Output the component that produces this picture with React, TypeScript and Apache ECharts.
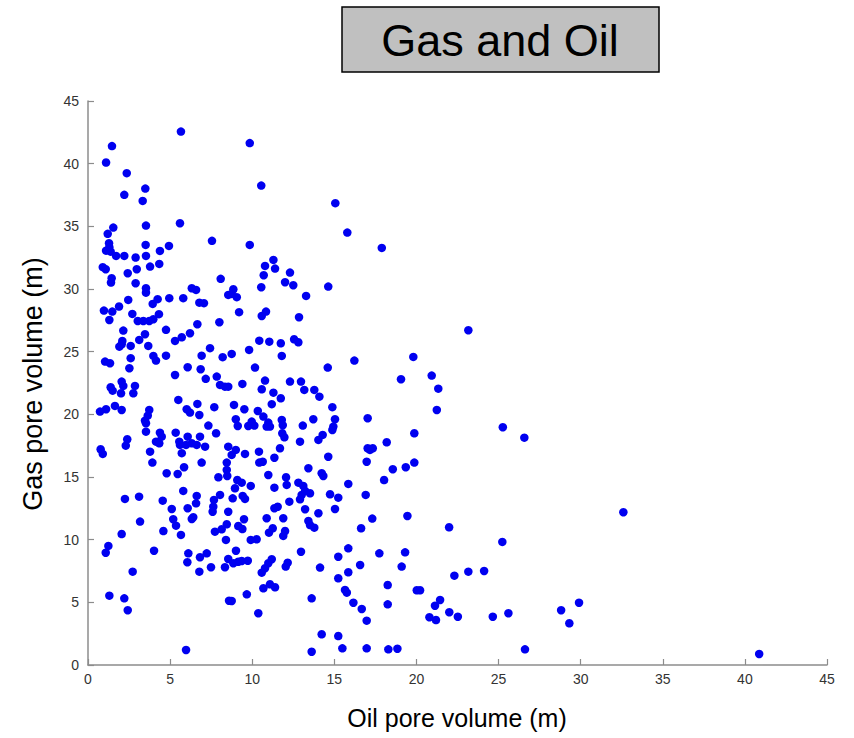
import React, { useEffect, useRef } from "react";
import * as echarts from "echarts";

const oilVolume: number[] = [
  5.66, 1.46, 1.10, 2.36, 3.49, 2.21, 3.33, 3.53, 5.60, 1.54, 1.20, 1.28, 1.30, 1.10, 1.38, 1.71, 2.21, 2.90, 3.51, 3.53,
  4.38, 4.93, 7.55, 3.78, 4.34, 2.97, 2.42, 0.90, 1.08, 1.44, 1.40, 2.90, 3.53, 8.08, 6.32, 6.58, 3.53, 8.54, 4.95, 5.80,
  4.24, 3.94, 2.45, 6.78, 7.06, 1.89, 0.97, 1.48, 1.30, 2.70, 4.32, 3.98, 3.03, 3.37, 3.73, 8.00, 6.66, 2.15, 4.75, 3.47,
  3.12, 2.09, 6.21, 5.71, 5.30, 1.91, 2.05, 2.60, 3.67, 7.43, 4.75, 3.98, 4.14, 6.92, 8.20, 1.04, 1.34, 2.60, 2.52, 6.07,
  6.86, 5.30, 7.17, 7.84, 8.04, 8.34, 8.54, 2.05, 2.15, 1.38, 1.50, 2.86, 2.76, 2.01, 5.50, 6.66, 6.01, 6.21, 6.78, 7.69,
  0.73, 1.10, 1.64, 2.05, 3.73, 3.64, 3.47, 3.53, 3.53, 7.33, 7.80, 4.38, 4.49, 4.14, 4.34, 5.34, 6.07, 6.82, 5.56, 5.60,
  5.97, 6.32, 6.62, 7.13, 5.71, 3.78, 2.39, 2.30, 0.77, 0.90, 3.92, 6.92, 5.85, 8.45, 8.54, 4.79, 5.46, 7.94, 8.45, 8.48,
  2.25, 3.11, 5.80, 6.62, 6.58, 4.55, 5.10, 6.07, 7.67, 7.63, 7.59, 8.04, 8.54, 3.17, 5.19, 5.36, 6.41, 6.32, 4.59, 5.66,
  2.05, 7.73, 8.14, 8.45, 8.40, 1.24, 1.08, 4.02, 6.11, 6.05, 6.82, 7.23, 7.49, 8.34, 8.54, 6.78, 2.72, 1.30, 2.21, 2.42,
  5.97, 8.59, 9.85, 10.55, 15.06, 15.79, 9.85, 11.29, 10.78, 11.39, 10.70, 12.30, 12.00, 12.50, 10.55, 14.63, 8.85, 8.75, 9.06, 13.28,
  9.20, 10.58, 10.84, 12.85, 10.43, 11.04, 11.74, 12.55, 12.81, 9.81, 11.80, 8.75, 10.17, 14.60, 16.22, 9.40, 10.78, 12.30, 12.97, 13.17,
  10.58, 11.29, 13.78, 14.09, 11.74, 11.19, 8.89, 9.52, 10.34, 14.88, 9.00, 9.12, 9.76, 9.97, 10.13, 10.68, 10.98, 11.08, 10.88, 11.80,
  11.86, 13.08, 13.72, 15.04, 14.94, 14.88, 17.03, 11.83, 11.96, 14.29, 14.03, 12.91, 11.69, 9.00, 8.75, 9.56, 10.41, 11.35, 10.43, 10.64,
  14.63, 17.03, 16.97, 13.42, 10.98, 12.06, 12.10, 14.23, 14.33, 9.09, 9.36, 9.91, 8.95, 11.35, 12.81, 13.11, 13.22, 13.52, 13.01, 12.91,
  15.85, 14.74, 15.24, 16.91, 8.81, 9.42, 9.56, 12.26, 11.35, 11.55, 13.22, 15.04, 14.03, 9.50, 10.88, 11.89, 13.42, 13.52, 13.78, 9.15,
  9.40, 11.25, 11.02, 12.00, 11.89, 16.63, 9.91, 10.27, 15.85, 9.01, 12.97, 15.24, 8.85, 9.15, 9.36, 9.73, 11.19, 10.98, 10.78, 10.58,
  12.16, 12.04, 14.13, 16.57, 15.85, 15.24, 10.68, 11.08, 11.39, 15.65, 15.76, 9.67, 8.75, 13.62, 16.16, 16.67, 10.37, 16.97, 14.23, 15.24,
  15.49, 13.62, 16.97, 17.89, 23.16, 19.81, 19.06, 20.93, 21.33, 21.24, 25.26, 19.87, 18.19, 17.17, 17.34, 18.56, 19.35, 19.87, 18.03, 17.31,
  19.45, 21.99, 25.23, 17.74, 19.31, 19.10, 18.25, 20.02, 20.22, 22.31, 23.16, 24.12, 21.44, 21.13, 18.25, 20.79, 21.19, 22.00, 22.52, 24.65,
  25.60, 18.29, 18.84, 26.57, 32.60, 28.81, 29.31, 29.90, 26.61, 40.87,
];

const gasVolume: number[] = [
  42.56, 41.40, 40.09, 39.24, 38.01, 37.51, 37.03, 35.06, 35.25, 34.90, 34.40, 33.66, 33.34, 33.06, 32.98, 32.64, 32.64, 32.51, 33.52, 32.64,
  33.04, 33.44, 33.84, 31.79, 32.00, 31.58, 31.26, 31.74, 31.58, 30.86, 30.51, 30.46, 30.06, 30.81, 30.06, 29.93, 29.71, 29.53, 29.27, 29.27,
  29.19, 28.81, 29.13, 28.91, 28.87, 28.60, 28.28, 28.20, 27.53, 28.01, 27.99, 27.59, 27.45, 27.45, 27.45, 27.35, 27.19, 26.68, 26.74, 26.39,
  25.94, 25.86, 26.47, 26.15, 25.86, 25.40, 25.59, 25.46, 25.46, 25.28, 24.68, 24.66, 24.29, 24.68, 24.56, 24.21, 24.08, 24.48, 23.68, 23.76,
  23.60, 23.14, 22.83, 23.01, 22.35, 22.21, 22.21, 22.61, 22.27, 22.16, 21.89, 22.27, 21.68, 21.68, 21.15, 20.83, 20.41, 20.14, 19.95, 20.57,
  20.22, 20.41, 20.67, 20.35, 20.35, 19.90, 19.50, 19.29, 18.62, 19.10, 18.49, 18.54, 18.22, 17.82, 17.69, 18.54, 18.22, 18.22, 17.82, 17.56,
  17.56, 17.69, 17.56, 17.42, 16.90, 17.02, 18.01, 17.50, 17.21, 16.84, 16.15, 16.15, 15.78, 16.15, 17.42, 15.30, 15.24, 14.98, 15.56, 15.08,
  13.25, 13.43, 13.89, 13.49, 12.90, 13.11, 12.45, 12.51, 13.17, 12.63, 12.23, 13.57, 12.23, 11.44, 11.63, 11.12, 11.79, 11.65, 10.69, 10.38,
  10.45, 10.64, 10.83, 11.23, 9.98, 9.50, 8.96, 9.12, 8.91, 8.20, 8.60, 8.91, 7.80, 7.80, 8.46, 7.45, 7.45, 5.53, 5.32, 4.37,
  1.20, 5.13, 41.64, 38.25, 36.85, 34.50, 33.52, 32.32, 31.84, 31.63, 31.10, 31.31, 30.54, 30.30, 30.14, 30.19, 29.98, 29.61, 29.35, 29.45,
  28.15, 27.85, 28.20, 27.75, 25.88, 25.80, 25.67, 25.99, 25.75, 25.14, 24.66, 24.82, 23.73, 23.73, 24.29, 22.43, 22.69, 22.61, 22.61, 21.95,
  22.00, 21.73, 21.95, 21.41, 21.28, 20.81, 20.75, 20.41, 20.27, 20.57, 19.61, 19.07, 19.07, 19.42, 19.10, 19.82, 19.34, 19.02, 19.02, 19.55,
  19.13, 19.10, 19.61, 19.61, 19.02, 18.75, 19.69, 18.49, 18.17, 18.36, 17.96, 17.82, 17.29, 17.16, 16.76, 16.84, 17.02, 16.54, 16.15, 16.22,
  16.62, 17.29, 16.22, 15.70, 15.16, 14.98, 14.37, 15.30, 15.08, 14.76, 14.55, 14.29, 14.10, 14.15, 14.55, 14.29, 13.89, 13.70, 13.57, 13.22,
  14.45, 13.62, 13.35, 13.57, 13.30, 13.49, 13.25, 13.03, 12.51, 12.63, 12.43, 12.45, 12.11, 11.63, 11.71, 11.71, 11.49, 11.17, 10.96, 11.09,
  10.85, 10.91, 10.56, 10.69, 10.30, 10.91, 9.98, 10.03, 9.31, 9.12, 9.04, 8.64, 8.12, 8.24, 8.30, 8.32, 8.44, 8.12, 7.72, 7.37,
  8.16, 7.85, 7.77, 7.98, 7.40, 6.92, 6.12, 6.44, 6.20, 5.99, 5.77, 5.64, 5.11, 5.32, 4.97, 4.47, 4.13, 3.54, 2.45, 2.31,
  1.33, 1.06, 1.33, 33.28, 26.71, 24.58, 22.80, 23.09, 22.05, 20.35, 18.97, 18.49, 17.77, 17.16, 17.29, 15.62, 15.78, 16.15, 14.76, 11.68,
  11.89, 10.99, 9.82, 8.91, 8.99, 7.85, 6.38, 5.96, 5.96, 7.13, 7.45, 7.50, 5.19, 4.73, 4.84, 3.81, 3.59, 4.21, 3.85, 3.85,
  4.13, 1.25, 1.30, 18.14, 12.19, 4.37, 3.33, 4.97, 1.25, 0.88,
];

const axisTicks: number[] = [0, 5, 10, 15, 20, 25, 30, 35, 40, 45];
const chartTitle = "Gas and Oil";
const xAxisTitle = "Oil pore volume (m)";
const yAxisTitle = "Gas pore volume (m)";

const FONT = "Arial, 'Liberation Sans', Helvetica, sans-serif";

export default function App() {
  const ref = useRef<HTMLDivElement>(null);

  useEffect(() => {
    if (!ref.current) return;
    const chart = echarts.init(ref.current, null, { renderer: "svg" });
    const n = Math.min(oilVolume.length, gasVolume.length);
    const points: number[][] = [];
    for (let i = 0; i < n; i++) points.push([oilVolume[i], gasVolume[i]]);

    const axisCommon = {
      type: "value" as const,
      min: axisTicks[0],
      max: axisTicks[axisTicks.length - 1],
      interval: axisTicks[1] - axisTicks[0],
      axisLine: { show: true, lineStyle: { color: "#8c8c8c", width: 1.5 } },
      axisTick: { show: true, inside: true, length: 6, lineStyle: { color: "#8c8c8c", width: 1.2 } },
      splitLine: { show: false },
      axisLabel: { color: "#333", fontSize: 14, fontFamily: FONT },
    };

    chart.setOption({
      animation: false,
      backgroundColor: "#ffffff",
      grid: { left: 88, right: 27, top: 101, bottom: 73, containLabel: false },
      xAxis: { ...axisCommon, axisLabel: { ...axisCommon.axisLabel, margin: 7 } },
      yAxis: { ...axisCommon, axisLabel: { ...axisCommon.axisLabel, margin: 9 } },
      graphic: [
        {
          type: "rect",
          shape: { x: 342, y: 7, width: 317, height: 65 },
          style: { fill: "#c0c0c0", stroke: "#000", lineWidth: 1.5 },
        },
        {
          type: "text",
          x: 500,
          y: 40,
          style: {
            text: chartTitle,
            fontSize: 45,
            fontFamily: FONT,
            fill: "#000",
            align: "center",
            verticalAlign: "middle",
          },
        },
        {
          type: "text",
          x: 457,
          y: 718,
          style: {
            text: xAxisTitle,
            fontSize: 25,
            fontFamily: FONT,
            fill: "#000",
            align: "center",
            verticalAlign: "middle",
          },
        },
        {
          type: "text",
          x: 33,
          y: 384,
          rotation: Math.PI / 2,
          style: {
            text: yAxisTitle,
            fontSize: 27,
            fontFamily: FONT,
            fill: "#000",
            align: "center",
            verticalAlign: "middle",
          },
        },
      ],
      series: [
        {
          type: "scatter",
          data: points,
          symbol: "circle",
          symbolSize: 8.5,
          itemStyle: { color: "#0000f0", opacity: 1 },
          silent: true,
        },
      ],
    });

    return () => chart.dispose();
  }, []);

  return (
    <div
      ref={ref}
      style={{ position: "fixed", left: 0, top: 0, width: 854, height: 738, background: "#fff" }}
    />
  );
}
